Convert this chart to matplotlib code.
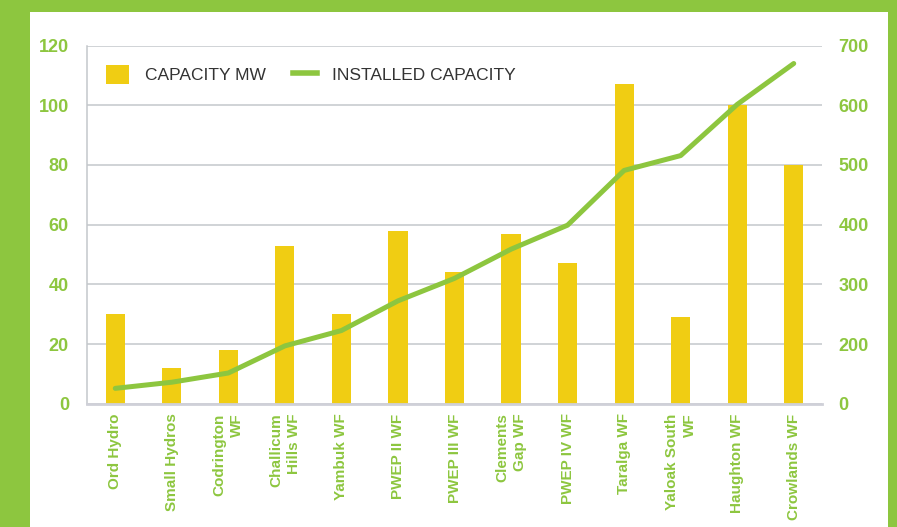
import matplotlib.pyplot as plt
from matplotlib.patches import Rectangle
from matplotlib.lines import Line2D
import numpy as np

# данные
stations = ["Ord Hydro", "Small Hydros", "Codrington\nWF", "Challicum\nHills WF",
            "Yambuk WF", "PWEP II WF", "PWEP III WF", "Clements\nGap WF",
            "PWEP IV WF", "Taralga WF", "Yaloak South\nWF", "Haughton WF",
            "Crowlands WF"]
capacity_mw = [30, 12, 18, 53, 30, 58, 44, 57, 47, 107, 29, 100, 80]
installed = np.cumsum(capacity_mw)
left_ticks = [0, 20, 40, 60, 80, 100, 120]
right_tick_labels = ["0", "200", "300", "400", "500", "600", "700"]

green = "#8dc63f"
label_green = "#8dc63f"
yellow = "#f0cd13"
grid_col = "#c3c7cb"

plt.rcParams['font.family'] = ['Liberation Sans', 'DejaVu Sans']

fig = plt.figure(figsize=(8.97, 5.27), dpi=100)
fig.patch.set_facecolor(green)
# белая панель
fig.patches.append(Rectangle((30 / 897, 0), (888 - 30) / 897, (527 - 12) / 527,
                             transform=fig.transFigure, facecolor="white",
                             edgecolor="none", zorder=-5))

ax = fig.add_axes([87 / 897, (527 - 403.7) / 527, (822 - 87) / 897, (403.7 - 45.6) / 527])
ax.set_facecolor("none")
x = np.arange(len(stations))

ax.bar(x, capacity_mw, width=0.34, color=yellow, zorder=2)
ax.set_xlim(-0.5, len(stations) - 0.5)
ax.set_ylim(0, 120)
ax.set_yticks(left_ticks)
ax.set_yticklabels([str(t) for t in left_ticks], fontsize=13, fontweight="bold",
                   color=label_green, va="center_baseline")
ax.yaxis.grid(True, color=grid_col, linewidth=1.1, zorder=0)
ax.set_axisbelow(True)
ax.tick_params(axis="y", length=0, pad=13)
ax.tick_params(axis="x", length=0, pad=7)
ax.set_xticks(x)
ax.set_xticklabels(stations, rotation=90, ha="center", va="top",
                   multialignment="right", fontsize=11, fontweight="bold",
                   color=label_green, linespacing=1.35)
for s in ["top", "right"]:
    ax.spines[s].set_visible(False)
ax.spines["left"].set_color(grid_col)
ax.spines["left"].set_linewidth(1.1)
ax.spines["bottom"].set_color("#cfd0d8")
ax.spines["bottom"].set_linewidth(2)

ax2 = ax.twinx()
ax2.plot(x, installed, color=green, linewidth=3.6, solid_capstyle="round", zorder=3)
ax2.set_ylim(0, 700)
ax2.set_yticks([t / 120 * 700 for t in left_ticks])
ax2.set_yticklabels(right_tick_labels, fontsize=13, fontweight="bold", color=label_green,
                    va="center_baseline")
ax2.tick_params(axis="y", length=0, pad=12)
for s in ax2.spines.values():
    s.set_visible(False)

handles = [Rectangle((0, 0), 1, 1, facecolor=yellow),
           Line2D([0], [0], color=green, linewidth=4)]
ax.legend(handles, ["CAPACITY MW", "INSTALLED CAPACITY"], loc="upper left",
          bbox_to_anchor=(0.004, 0.99), ncol=2, frameon=False, fontsize=12.5,
          labelcolor="#333333", handlelength=1.35, handleheight=1.35,
          columnspacing=1.6, handletextpad=0.9)

fig.savefig("out.png", dpi=100, facecolor=fig.get_facecolor())
